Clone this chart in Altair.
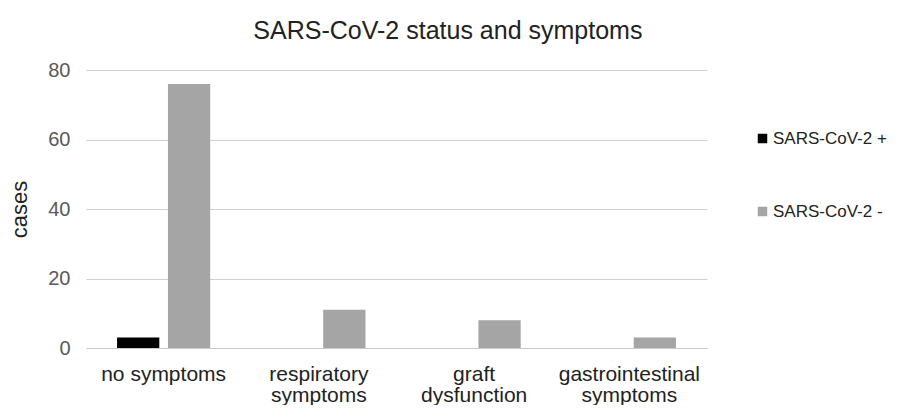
import altair as alt
import pandas as pd

categories = ["no symptoms", "respiratory symptoms", "graft dysfunction", "gastrointestinal symptoms"]
series = ["SARS-CoV-2 +", "SARS-CoV-2 -"]
positive = [3, 0, 0, 0]
negative = [76, 11, 8, 3]

rows = []
for c, p, n in zip(categories, positive, negative):
    rows.append({"category": c, "status": series[0], "cases": p})
    rows.append({"category": c, "status": series[1], "cases": n})
df = pd.DataFrame(rows)

font = "Liberation Sans"

chart = alt.Chart(df).mark_bar().encode(
    x=alt.X("category:N", sort=categories, title=None,
            scale=alt.Scale(paddingInner=0.4, paddingOuter=0.2),
            axis=alt.Axis(labelAngle=0, labelFontSize=21, labelColor="#222222",
                          labelFont=font, ticks=False, domainColor="#c8c8c8",
                          labelPadding=15, labelLineHeight=21,
                          labelExpr="datum.value == 'no symptoms' ? datum.value : split(datum.value, ' ')")),
    xOffset=alt.XOffset("status:N", sort=series, scale=alt.Scale(paddingInner=0.17)),
    y=alt.Y("cases:Q", title="cases", scale=alt.Scale(domain=[0, 80]),
            axis=alt.Axis(values=[0, 20, 40, 60, 80], labelFontSize=20, labelColor="#595959",
                          labelFont=font, titleFont=font, titleFontSize=22, titleFontWeight="normal",
                          titleColor="#222222", domain=False, ticks=False, gridColor="#d0d0d0",
                          labelPadding=16, titlePadding=16)),
    color=alt.Color("status:N", sort=series,
                    scale=alt.Scale(domain=series, range=["#000000", "#a5a5a5"]),
                    legend=alt.Legend(title=None, symbolType="square", symbolSize=90,
                                      labelFontSize=17, labelFont=font, labelColor="#222222",
                                      rowPadding=55, orient="none", legendX=668, legendY=60,
                                      labelOffset=2, symbolStrokeWidth=0)),
).properties(
    width=621, height=278,
    padding={"left": 0, "top": 11, "right": 0, "bottom": 0},
    title=alt.Title("SARS-CoV-2 status and symptoms", fontSize=25, font=font,
                    fontWeight="normal", color="#222222", frame="bounds", anchor="middle", offset=16),
).configure_view(stroke=None)

chart.save("out.html", embed_options={"renderer": "svg", "actions": False})
